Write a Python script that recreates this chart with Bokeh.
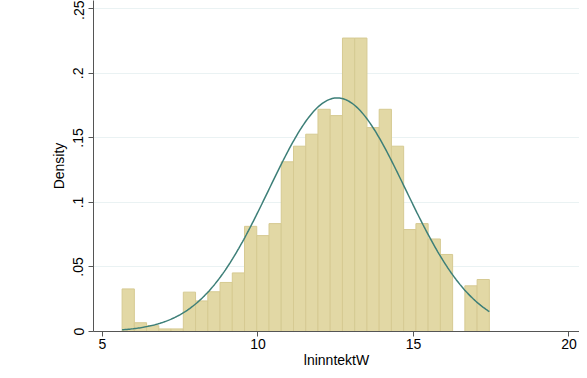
import numpy as np
from bokeh.plotting import figure
from bokeh.models import FixedTicker, Range1d
from bokeh.embed import file_html
from bokeh.resources import INLINE

# Histogram data (density), 30 bins
bin_start = 5.63
bin_width = 0.3937
densities = [0.0330, 0.0068, 0.0045, 0.0020, 0.0020, 0.0305, 0.0237, 0.0308,
             0.0380, 0.0454, 0.0815, 0.0743, 0.0836, 0.1315, 0.1436, 0.1529,
             0.1722, 0.1673, 0.2274, 0.2274, 0.1580, 0.1722, 0.1436, 0.0790,
             0.0836, 0.0717, 0.0597, 0.0, 0.0354, 0.0403]
# Normal overlay parameters
norm_mean = 12.55
norm_sd = 2.204

x_ticks = [5, 10, 15, 20]
y_ticks = [0, 0.05, 0.1, 0.15, 0.2, 0.25]
y_tick_labels = {0: "0", 0.05: ".05", 0.1: ".1", 0.15: ".15", 0.2: ".2", 0.25: ".25"}

n = len(densities)
lefts = [bin_start + i * bin_width for i in range(n)]
rights = [l + bin_width for l in lefts]

p = figure(width=579, height=370, output_backend="svg", toolbar_location=None,
           x_range=Range1d(4.71, 20.34), y_range=Range1d(0, 0.2565),
           min_border_left=93, min_border_top=0, min_border_right=0, min_border_bottom=38)
p.background_fill_color = "white"
p.border_fill_color = "white"
p.outline_line_color = None

p.quad(left=lefts, right=rights, bottom=0, top=densities,
       fill_color="#e2d8a5", line_color="#d6ca92", line_width=1)

xs = np.linspace(bin_start, bin_start + n * bin_width, 300)
ys = np.exp(-0.5 * ((xs - norm_mean) / norm_sd) ** 2) / (norm_sd * np.sqrt(2 * np.pi))
p.line(xs, ys, line_color="#3d7f78", line_width=1.5)

font = "Liberation Sans"
p.xaxis.ticker = FixedTicker(ticks=x_ticks)
p.yaxis.ticker = FixedTicker(ticks=y_ticks)
p.yaxis.major_label_overrides = y_tick_labels
p.yaxis.major_label_orientation = "parallel"
p.xaxis.axis_label = "lninntektW"
p.yaxis.axis_label = "Density"
for ax in (p.xaxis, p.yaxis):
    ax.axis_label_text_font = font
    ax.axis_label_text_font_style = "normal"
    ax.axis_label_text_font_size = "14px"
    ax.major_label_text_font = font
    ax.major_label_text_font_size = "14px"
    ax.major_label_text_color = "black"
    ax.axis_label_text_color = "black"
    ax.axis_line_color = "#555555"
    ax.major_tick_line_color = "#555555"
    ax.minor_tick_line_color = None
    ax.major_tick_out = 5
    ax.major_tick_in = 0
p.xaxis.major_label_standoff = 2
p.xaxis.axis_label_standoff = 0
p.yaxis.axis_label_standoff = 4
p.yaxis.major_label_standoff = 5
p.xgrid.grid_line_color = None
p.ygrid.grid_line_color = "#eaf2f3"
p.ygrid.grid_line_width = 1

open("out.html", "w").write(file_html(p, INLINE))
